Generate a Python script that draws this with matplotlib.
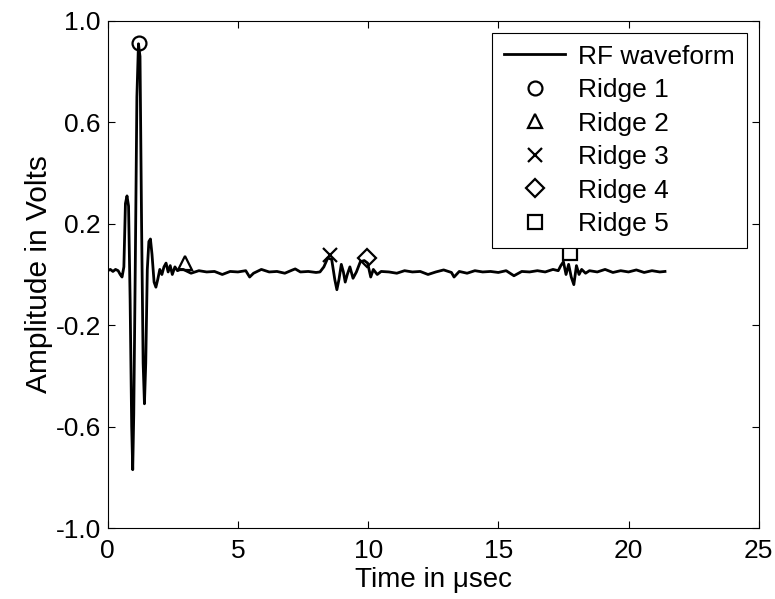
import matplotlib
matplotlib.use("Agg")
import matplotlib.pyplot as plt

plt.rcParams["font.family"] = ["Liberation Sans", "DejaVu Sans"]
plt.rcParams["axes.unicode_minus"] = False

# RF waveform samples (time in usec, amplitude in V)
time_us = [
    0.0, 0.1, 0.2, 0.3, 0.4, 0.48, 0.55,
    0.62, 0.68, 0.74, 0.80, 0.86, 0.92, 0.96, 1.00, 1.06, 1.12, 1.18, 1.24,
    1.30, 1.36, 1.41, 1.46, 1.52, 1.58, 1.64, 1.70, 1.78, 1.85, 1.92, 2.00,
    2.08, 2.16, 2.24, 2.32, 2.40, 2.48, 2.58, 2.68, 2.78,
    2.9, 3.2, 3.5, 3.8, 4.1, 4.4, 4.7, 5.0, 5.3, 5.45, 5.6, 5.9, 6.2, 6.5,
    6.8, 7.1, 7.2, 7.4, 7.7, 8.0,
    8.15, 8.3, 8.45, 8.6, 8.72, 8.8, 8.88, 8.97, 9.05, 9.12, 9.2, 9.3, 9.42,
    9.55, 9.7, 9.85, 9.98, 10.1, 10.2, 10.35, 10.5,
    10.8, 11.1, 11.4, 11.7, 12.0, 12.3, 12.6, 12.9, 13.2, 13.3, 13.5, 13.8,
    14.1, 14.4, 14.7, 15.0, 15.3, 15.6, 15.9, 16.2, 16.5, 16.8, 17.1, 17.3,
    17.4, 17.5, 17.6, 17.7, 17.8, 17.9, 18.0, 18.1, 18.2, 18.35, 18.5,
    18.8, 19.1, 19.4, 19.7, 20.0, 20.3, 20.6, 20.9, 21.2, 21.4,
]
amplitude_v = [
    0.015, 0.02, 0.012, 0.02, 0.015, 0.0, -0.01,
    0.03, 0.28, 0.31, 0.27, -0.10, -0.60, -0.77, -0.55, 0.05, 0.70, 0.91, 0.86,
    0.20, -0.35, -0.51, -0.35, 0.02, 0.13, 0.14, 0.08, -0.03, -0.05, -0.02, 0.02,
    0.0, 0.03, 0.045, 0.01, 0.035, 0.0, 0.03, 0.015, 0.02,
    0.02, 0.005, 0.015, 0.01, 0.012, 0.0, 0.012, 0.01, 0.015, -0.01, 0.005, 0.02, 0.01, 0.012,
    0.005, 0.018, 0.022, 0.01, 0.012, 0.008,
    0.01, 0.03, 0.065, 0.06, -0.02, -0.06, -0.02, 0.04, 0.01, -0.03, 0.0, 0.03, -0.015,
    0.01, 0.05, 0.055, 0.045, -0.01, 0.02, 0.0, 0.012,
    0.01, 0.005, 0.015, 0.01, 0.012, 0.0, 0.01, 0.018, 0.008, -0.01, 0.012, 0.005,
    0.015, 0.01, 0.012, 0.008, 0.015, -0.005, 0.012, 0.01, 0.015, 0.01, 0.02, 0.015,
    0.035, 0.05, 0.0, 0.04, -0.01, -0.04, 0.035, 0.0, 0.02, 0.005, 0.015,
    0.01, 0.02, 0.008, 0.015, 0.01, 0.018, 0.008, 0.015, 0.01, 0.012,
]

# ridge peak locations
ridge_labels = ["Ridge 1", "Ridge 2", "Ridge 3", "Ridge 4", "Ridge 5"]
ridge_markers = ["o", "^", "x", "D", "s"]
ridge_t = [1.22, 2.95, 8.55, 9.95, 17.75]
ridge_v = [0.915, 0.045, 0.075, 0.065, 0.085]

xticks = [0, 5, 10, 15, 20, 25]
yticks = [-1.0, -0.6, -0.2, 0.2, 0.6, 1.0]
ytick_labels = ["-1.0", "-0.6", "-0.2", "0.2", "0.6", "1.0"]

fig = plt.figure(figsize=(7.75, 5.99), dpi=100)
ax = fig.add_axes([0.139, 0.1185, 0.840, 0.8465])

ax.plot(time_us, amplitude_v, color="black", lw=2.0, label="RF waveform")
for lab, m, t, v in zip(ridge_labels, ridge_markers, ridge_t, ridge_v):
    ms = 9 if m == "D" else 10
    ax.plot([t], [v], linestyle="none", marker=m, ms=ms, mfc="none",
            mec="black", mew=1.6, color="black", label=lab)

ax.set_xlim(0, 25)
ax.set_ylim(-1.0, 1.0)
ax.set_xticks(xticks)
ax.set_yticks(yticks)
ax.set_yticklabels(ytick_labels)
ax.tick_params(direction="in", top=True, right=True, labelsize=19, length=5,
               width=0.8)
ax.tick_params(axis="x", pad=8)
ax.tick_params(axis="y", pad=5)
for s in ax.spines.values():
    s.set_linewidth(0.8)

ax.set_xlabel("Time in μsec", fontsize=20, labelpad=3)
ax.set_ylabel("Amplitude in Volts", fontsize=21.5, labelpad=2)

leg = ax.legend(loc="upper right", fontsize=19, frameon=True, fancybox=False,
                edgecolor="black", framealpha=1, borderaxespad=0.45,
                handlelength=2.3, labelspacing=0.36, handletextpad=0.5,
                borderpad=0.45)
leg.get_frame().set_linewidth(0.8)

fig.savefig("out.png", dpi=100)
